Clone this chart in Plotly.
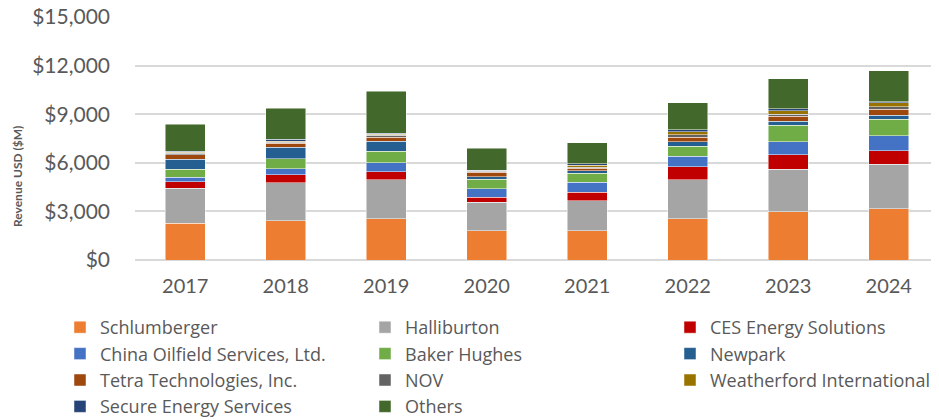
import plotly.graph_objects as go

years = ["2017", "2018", "2019", "2020", "2021", "2022", "2023", "2024"]

schlumberger = [2263, 2423, 2546, 1806, 1806, 2546, 2978, 3163]
halliburton = [2158, 2343, 2404, 1751, 1850, 2404, 2632, 2737]
ces_energy = [407, 493, 493, 327, 536, 801, 882, 838]
china_oilfield = [271, 370, 555, 512, 598, 660, 801, 925]
baker_hughes = [512, 617, 721, 598, 573, 617, 1030, 1030]
newpark = [598, 703, 598, 142, 142, 265, 228, 228]
tetra = [284, 265, 265, 290, 148, 290, 308, 388]
nov = [86, 62, 105, 49, 80, 142, 142, 166]
weatherford = [62, 62, 80, 37, 105, 185, 203, 222]
secure = [62, 105, 43, 37, 100, 123, 148, 86]
others = [1665, 1930, 2608, 1356, 1313, 1665, 1850, 1911]

# (name, values, colour, legend column)
series = [
    ("Schlumberger", schlumberger, "#ED7D31", "legend"),
    ("Halliburton", halliburton, "#A5A5A5", "legend2"),
    ("CES Energy Solutions", ces_energy, "#C00000", "legend3"),
    ("China Oilfield Services, Ltd.", china_oilfield, "#4472C4", "legend"),
    ("Baker Hughes", baker_hughes, "#70AD47", "legend2"),
    ("Newpark", newpark, "#255E91", "legend3"),
    ("Tetra Technologies, Inc.", tetra, "#9E480E", "legend"),
    ("NOV", nov, "#636363", "legend2"),
    ("Weatherford International", weatherford, "#997300", "legend3"),
    ("Secure Energy Services", secure, "#264478", "legend"),
    ("Others", others, "#43682B", "legend2"),
]

FONT = "Lato"
GREY = "#595959"
OFF = 8  # default page body margin

fig = go.Figure()
for name, vals, color, leg in series:
    fig.add_trace(go.Bar(
        x=years, y=vals, name=name, legend=leg,
        marker=dict(color=color, line=dict(color="rgba(255,255,255,0.6)", width=0.8)),
    ))

# page coords: plot spans x 135..939 px, y 17..260 px
def px_x(p):
    return (p - 135) / 804

def px_y(p):
    return (260 - p) / 243

legend_common = dict(
    orientation="v", yanchor="top", xanchor="left",
    font=dict(family="Open Sans", size=18, color=GREY),
    bgcolor="rgba(0,0,0,0)", traceorder="normal",
    itemwidth=30, tracegroupgap=0,
)

fig.update_layout(
    width=939, height=420,
    margin=dict(l=135 - OFF, r=OFF, t=17 - OFF, b=420 - 260 + OFF, autoexpand=False),
    paper_bgcolor="white", plot_bgcolor="white",
    barmode="stack", bargap=0.6,
    font=dict(family=FONT, color=GREY),
    legend=dict(x=px_x(60), y=px_y(309), **legend_common),
    legend2=dict(x=px_x(365), y=px_y(309), **legend_common),
    legend3=dict(x=px_x(670), y=px_y(309), **legend_common),
    xaxis=dict(
        tickfont=dict(family=FONT, size=20, color=GREY),
        showgrid=False, showline=False, ticks="", ticklabelstandoff=12,
        automargin=False,
    ),
    yaxis=dict(
        range=[0, 15000], dtick=3000, tickprefix="$", tickformat=",d",
        tickfont=dict(family=FONT, size=21, color=GREY),
        showgrid=True, gridcolor="#D9D9D9", gridwidth=1.5,
        zeroline=True, zerolinecolor="#D9D9D9", zerolinewidth=1.5,
        showline=False, ticks="", ticklabelstandoff=24, automargin=False,
        ticklabeloverflow="allow",
    ),
    annotations=[dict(
        text="<b>Revenue USD ($M)</b>", textangle=-90,
        xref="paper", yref="paper", x=px_x(17), y=px_y(177),
        xanchor="center", yanchor="middle", showarrow=False,
        font=dict(family=FONT, size=12, color=GREY),
    )],
)

fig.write_html("out.html")
